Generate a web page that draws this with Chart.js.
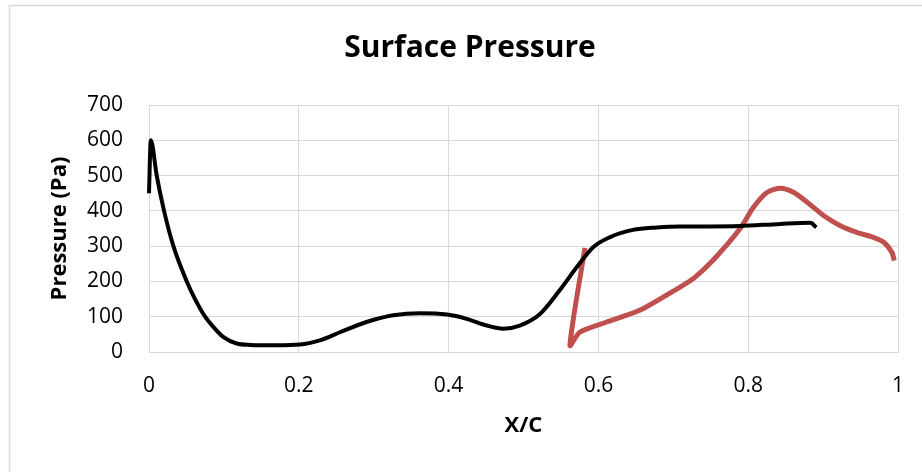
<!DOCTYPE html>
<html>
<head>
<meta charset="utf-8">
<title>Surface Pressure</title>
<script src="https://cdn.jsdelivr.net/npm/chart.js@4.4.1/dist/chart.umd.min.js"></script>
<style>
  html, body { margin: 0; padding: 0; background: #fff; }
  canvas { display: block; }
</style>
</head>
<body>
<canvas id="grafik" width="922" height="472"></canvas>
<script>
// x/c positions and pressure (Pa) for the two surface curves
const xHitam = [0, 0.0024, 0.0103, 0.0201, 0.0326, 0.0504, 0.0615, 0.0749, 0.086, 0.0995, 0.117, 0.135, 0.17, 0.2015, 0.228, 0.255, 0.2905, 0.326, 0.362, 0.398, 0.424, 0.451, 0.473, 0.495, 0.522, 0.548, 0.571, 0.593, 0.615, 0.646, 0.678, 0.709, 0.75, 0.789, 0.843, 0.883, 0.891];
const pHitam = [450, 600, 500, 400, 300, 200, 150, 100, 71, 42, 24, 20, 19, 21, 33, 56, 85, 104, 110, 106, 94, 75, 66, 75, 108, 174, 240, 297, 325, 346, 353, 356, 356, 357, 363, 366, 353];

const xMerah = [0.582, 0.562, 0.575, 0.611, 0.655, 0.709, 0.728, 0.754, 0.789, 0.807, 0.825, 0.843, 0.861, 0.879, 0.901, 0.923, 0.945, 0.967, 0.981, 0.992, 0.995];
const pMerah = [295, 19, 56, 85, 118, 184, 210, 262, 349, 410, 452, 464, 452, 424, 386, 358, 339, 325, 311, 282, 259];

const xTicks = [0, 0.2, 0.4, 0.6, 0.8, 1];
const yTicks = [0, 100, 200, 300, 400, 500, 600, 700];

const garisGrid = "#d9d9d9";
const huruf = "'Open Sans', 'Noto Sans', sans-serif";

const gabung = (xs, ys) => xs.map((x, i) => ({ x, y: ys[i] }));

// thin frame round the whole chart (top and left edges)
const bingkai = {
  id: "bingkai",
  beforeDraw(chart) {
    const c = chart.ctx;
    c.save();
    c.strokeStyle = garisGrid;
    c.lineWidth = 1.5;
    c.beginPath();
    c.moveTo(9.5, chart.height);
    c.lineTo(9.5, 5.5);
    c.lineTo(chart.width, 5.5);
    c.stroke();
    c.restore();
  }
};

new Chart(document.getElementById("grafik"), {
  type: "scatter",
  data: {
    datasets: [
      {
        data: gabung(xHitam, pHitam),
        showLine: true,
        borderColor: "#000",
        borderWidth: 4,
        pointRadius: 0,
        cubicInterpolationMode: "monotone",
        clip: false
      },
      {
        data: gabung(xMerah, pMerah),
        showLine: true,
        borderColor: "#c0504d",
        borderWidth: 5,
        pointRadius: 0,
        tension: 0.25,
        clip: false
      }
    ]
  },
  options: {
    responsive: false,
    animation: false,
    layout: { padding: { left: 42, right: 24, top: 0, bottom: 0 } },
    plugins: {
      legend: { display: false },
      tooltip: { enabled: false },
      title: {
        display: true,
        text: "Surface Pressure",
        color: "#000",
        font: { family: huruf, size: 30, weight: "bold" },
        padding: { top: 30, bottom: 39 }
      }
    },
    scales: {
      x: {
        type: "linear",
        min: xTicks[0],
        max: xTicks[xTicks.length - 1],
        // fixed height, and no extra room kept for the end labels
        afterFit: s => { s.height = 120; s.paddingLeft = 0; s.paddingRight = 0; },
        afterBuildTicks: s => { s.ticks = xTicks.map(v => ({ value: v })); },
        ticks: {
          color: "#000",
          padding: 21,
          font: { family: huruf, size: 21 },
          callback: v => String(v)
        },
        grid: { color: garisGrid, drawTicks: false },
        border: { color: garisGrid },
        title: {
          display: true,
          text: "X/C",
          color: "#000",
          font: { family: huruf, size: 22, weight: "bold" },
          padding: { top: 0, bottom: 33 }
        }
      },
      y: {
        min: yTicks[0],
        max: yTicks[yTicks.length - 1],
        afterFit: s => { s.width = 107; },
        afterBuildTicks: s => { s.ticks = yTicks.map(v => ({ value: v })); },
        ticks: { color: "#000", padding: 26, font: { family: huruf, size: 21 } },
        grid: { color: garisGrid, drawTicks: false },
        border: { color: garisGrid },
        title: {
          display: true,
          text: "Pressure (Pa)",
          color: "#000",
          font: { family: huruf, size: 22, weight: "bold" },
          padding: { top: 5, bottom: 0 }
        }
      }
    }
  },
  plugins: [bingkai]
});
</script>
</body>
</html>
